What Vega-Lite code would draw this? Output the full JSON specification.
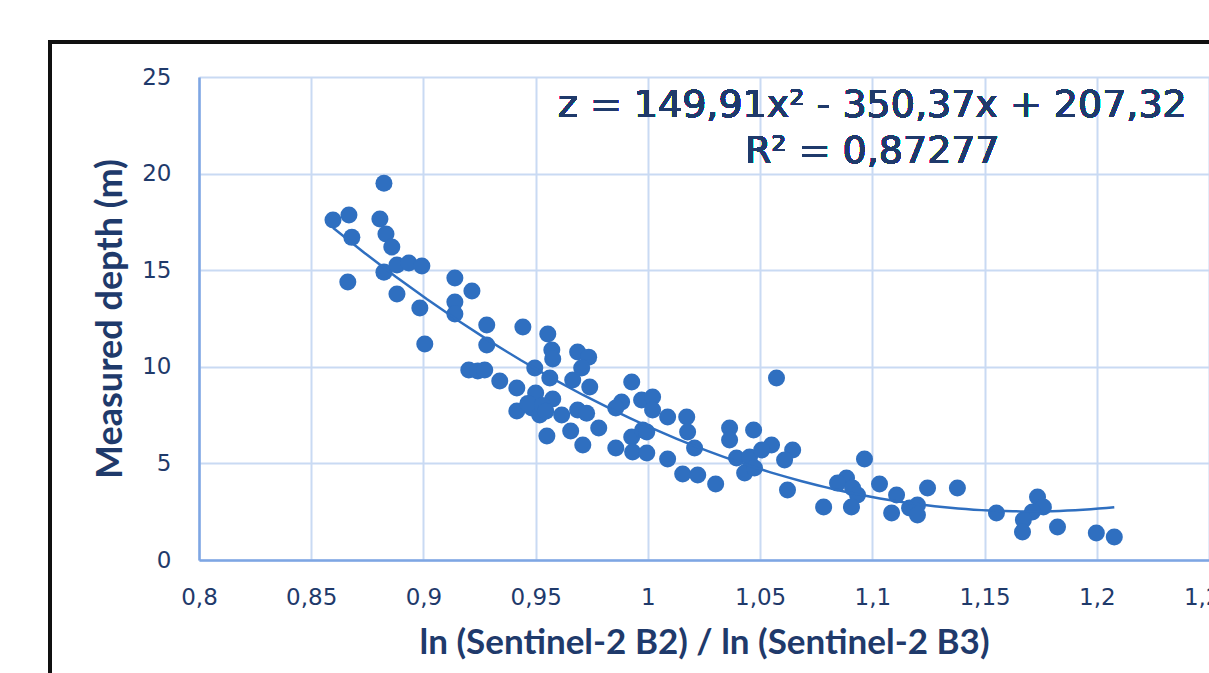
{
  "$schema": "https://vega.github.io/schema/vega-lite/v6.json",
  "width": 1010,
  "height": 483,
  "autosize": {"type": "none"},
  "padding": {"left": 199, "top": 77, "right": 0, "bottom": 113},
  "background": "white",
  "config": {"view": {"stroke": null}},
  "data": {"values": [
    {"ratio":0.8597,"depth":17.6},{"ratio":0.8668,"depth":17.86},{"ratio":0.8681,"depth":16.7},{"ratio":0.8663,"depth":14.39},
    {"ratio":0.8824,"depth":19.5},{"ratio":0.8806,"depth":17.65},{"ratio":0.8833,"depth":16.87},{"ratio":0.8859,"depth":16.2},
    {"ratio":0.8824,"depth":14.9},{"ratio":0.8882,"depth":15.27},{"ratio":0.8935,"depth":15.37},{"ratio":0.8993,"depth":15.22},
    {"ratio":0.8882,"depth":13.77},{"ratio":0.8984,"depth":13.04},{"ratio":0.9006,"depth":11.18},{"ratio":0.914,"depth":14.6},
    {"ratio":0.9216,"depth":13.92},{"ratio":0.914,"depth":13.35},{"ratio":0.914,"depth":12.73},{"ratio":0.9282,"depth":12.16},
    {"ratio":0.9282,"depth":11.13},{"ratio":0.9443,"depth":12.06},{"ratio":0.9554,"depth":11.7},{"ratio":0.9572,"depth":10.87},
    {"ratio":0.9576,"depth":10.4},{"ratio":0.9687,"depth":10.77},{"ratio":0.9736,"depth":10.5},{"ratio":0.9705,"depth":9.94},
    {"ratio":0.9202,"depth":9.83},{"ratio":0.9242,"depth":9.78},{"ratio":0.9273,"depth":9.83},{"ratio":0.934,"depth":9.27},
    {"ratio":0.9416,"depth":8.9},{"ratio":0.9496,"depth":9.94},{"ratio":0.9563,"depth":9.42},{"ratio":0.95,"depth":8.64},
    {"ratio":0.9576,"depth":8.33},{"ratio":0.9416,"depth":7.71},{"ratio":0.9483,"depth":7.87},{"ratio":0.9518,"depth":7.5},
    {"ratio":0.9465,"depth":8.1},{"ratio":0.953,"depth":8.0},{"ratio":0.9545,"depth":7.7},
    {"ratio":0.9616,"depth":7.5},{"ratio":0.9687,"depth":7.76},{"ratio":0.9727,"depth":7.6},{"ratio":0.9665,"depth":9.32},
    {"ratio":0.9741,"depth":8.95},{"ratio":0.9656,"depth":6.68},{"ratio":0.955,"depth":6.42},{"ratio":0.971,"depth":5.95},
    {"ratio":0.9781,"depth":6.83},{"ratio":0.9928,"depth":9.21},{"ratio":0.9883,"depth":8.18},{"ratio":0.9857,"depth":7.87},
    {"ratio":0.9972,"depth":8.28},{"ratio":1.0021,"depth":8.44},{"ratio":0.9857,"depth":5.8},{"ratio":0.9928,"depth":6.37},
    {"ratio":0.9932,"depth":5.59},{"ratio":0.9995,"depth":5.54},{"ratio":0.9977,"depth":6.73},{"ratio":1.0021,"depth":7.76},
    {"ratio":1.0573,"depth":9.42},{"ratio":1.0088,"depth":7.4},{"ratio":1.0173,"depth":7.4},{"ratio":1.0177,"depth":6.63},
    {"ratio":1.0208,"depth":5.8},{"ratio":0.9995,"depth":6.63},{"ratio":1.0088,"depth":5.23},{"ratio":1.0155,"depth":4.45},
    {"ratio":1.0222,"depth":4.4},{"ratio":1.0302,"depth":3.93},{"ratio":1.0364,"depth":6.83},{"ratio":1.0364,"depth":6.21},
    {"ratio":1.0471,"depth":6.73},{"ratio":1.0551,"depth":5.95},{"ratio":1.0645,"depth":5.69},{"ratio":1.0609,"depth":5.18},
    {"ratio":1.0395,"depth":5.28},{"ratio":1.0453,"depth":5.33},{"ratio":1.0431,"depth":4.5},{"ratio":1.0475,"depth":4.76},
    {"ratio":1.0507,"depth":5.69},{"ratio":1.0622,"depth":3.62},{"ratio":1.0965,"depth":5.23},{"ratio":1.0885,"depth":4.24},
    {"ratio":1.0845,"depth":3.98},{"ratio":1.0912,"depth":3.73},{"ratio":1.0934,"depth":3.36},{"ratio":1.0907,"depth":2.74},
    {"ratio":1.0783,"depth":2.74},{"ratio":1.1032,"depth":3.93},{"ratio":1.1108,"depth":3.36},{"ratio":1.1086,"depth":2.43},
    {"ratio":1.1166,"depth":2.69},{"ratio":1.1201,"depth":2.85},{"ratio":1.1201,"depth":2.33},{"ratio":1.1246,"depth":3.73},
    {"ratio":1.1379,"depth":3.73},{"ratio":1.1553,"depth":2.43},{"ratio":1.1736,"depth":3.26},{"ratio":1.1762,"depth":2.74},
    {"ratio":1.1713,"depth":2.48},{"ratio":1.1673,"depth":2.07},{"ratio":1.1669,"depth":1.45},{"ratio":1.1825,"depth":1.71},
    {"ratio":1.1998,"depth":1.4},{"ratio":1.2078,"depth":1.19}
  ]},
  "layer": [
    {
      "mark": {"type": "rect", "fill": null, "stroke": "#111111", "strokeWidth": 3, "clip": false},
      "encoding": {
        "x": {"datum": 0.7337, "type": "quantitative", "scale": {"domain": [0.8, 1.25]}},
        "x2": {"datum": 1.4},
        "y": {"datum": 26.81, "type": "quantitative"},
        "y2": {"datum": -10}
      }
    },
    {
      "mark": {"type": "circle", "size": 290, "color": "#2f6fc0", "opacity": 1},
      "encoding": {
        "x": {
          "field": "ratio", "type": "quantitative",
          "scale": {"domain": [0.8, 1.25], "zero": false, "nice": false},
          "axis": {
            "values": [0.8, 0.85, 0.9, 0.95, 1, 1.05, 1.1, 1.15, 1.2, 1.25],
            "labelExpr": "replace(toString(datum.value), '.', ',')",
            "grid": true, "gridColor": "#c9daf3", "gridWidth": 2,
            "domainColor": "#7ea6e3", "domainWidth": 2.5,
            "ticks": false, "labelPadding": 26, "labelFont": "DejaVu Sans", "labelFontSize": 23,
            "labelColor": "#1f3a6b", "labelFlush": false,
            "title": "ln (Sentinel-2 B2) / ln (Sentinel-2 B3)",
            "titleFont": "Lato", "titleFontWeight": "bold", "titleFontSize": 35, "titleColor": "#1f3a6b",
            "titlePadding": 16
          }
        },
        "y": {
          "field": "depth", "type": "quantitative",
          "scale": {"domain": [0, 25], "nice": false},
          "axis": {
            "values": [0, 5, 10, 15, 20, 25],
            "grid": true, "gridColor": "#c9daf3", "gridWidth": 2,
            "domainColor": "#7ea6e3", "domainWidth": 2.5,
            "ticks": false, "labelPadding": 28, "labelFont": "DejaVu Sans", "labelFontSize": 23,
            "labelColor": "#1f3a6b",
            "title": "Measured depth (m)",
            "titleFont": "Lato", "titleFontWeight": "bold", "titleFontSize": 36, "titleColor": "#1f3a6b",
            "titlePadding": 12
          }
        }
      }
    },
    {
      "transform": [{"regression": "depth", "on": "ratio", "method": "poly", "order": 2}],
      "mark": {"type": "line", "color": "#2f6fc0", "strokeWidth": 2.5},
      "encoding": {
        "x": {"field": "ratio", "type": "quantitative"},
        "y": {"field": "depth", "type": "quantitative"}
      }
    },
    {
      "mark": {"type": "text", "font": "DejaVu Sans", "fontSize": 38, "color": "#1f3a6b", "align": "center", "baseline": "middle"},
      "encoding": {
        "x": {"datum": 1.1, "type": "quantitative"},
        "y": {"datum": 23.5, "type": "quantitative"},
        "text": {"value": "z = 149,91x² - 350,37x + 207,32"}
      }
    },
    {
      "mark": {"type": "text", "font": "DejaVu Sans", "fontSize": 38, "color": "#1f3a6b", "align": "center", "baseline": "middle"},
      "encoding": {
        "x": {"datum": 1.1, "type": "quantitative"},
        "y": {"datum": 21.1, "type": "quantitative"},
        "text": {"value": "R² = 0,87277"}
      }
    }
  ]
}
